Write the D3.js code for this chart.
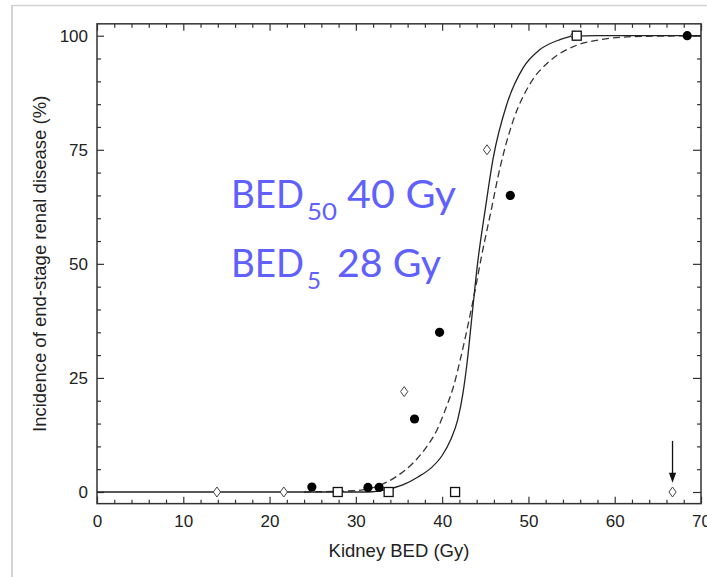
<!DOCTYPE html>
<html>
<head>
<meta charset="utf-8">
<script src="https://cdn.jsdelivr.net/npm/d3@7"></script>
<style>
  html, body { margin: 0; padding: 0; background: #fff; }
  svg { display: block; }
</style>
</head>
<body>
<svg id="chart" width="707" height="577"></svg>
<script>
// ---------------- DATA ----------------
const xTickValues = [0, 10, 20, 30, 40, 50, 60, 70];
const yTickValues = [0, 25, 50, 75, 100];

// filled circles
const circleBED = [24.9, 31.4, 32.7, 36.8, 39.7, 47.9, 68.4];
const circleInc = [1.1, 1.0, 1.0, 16, 35, 65, 100];

// open diamonds
const diamondBED = [13.9, 21.65, 35.6, 45.2, 55.3, 66.7];
const diamondInc = [0, 0, 22, 75, 100, 0];

// open squares
const squareBED = [27.9, 33.8, 41.5, 55.6];
const squareInc = [0, 0, 0, 100];

// solid fitted curve
const solidBED = [0, 31.5, 33.5, 35.5, 37.2, 38.8, 40.0, 41.0, 41.8, 42.4, 42.9, 43.4, 44.1, 45.0, 45.9, 47.5, 49.4, 51.3, 53.6, 55.2, 58.0, 70];
const solidInc = [0, 0, 0.5, 1.6, 3.3, 5.4, 8.0, 11.5, 15.8, 21.5, 28.5, 37.5, 50, 62, 73, 85, 93, 96.9, 99.1, 99.9, 100, 100];

// dashed fitted curve
const dashBED = [24, 30, 32.4, 34.7, 36.6, 38.2, 39.4, 40.5, 41.3, 42.1, 42.7, 43.9, 44.6, 45.6, 46.7, 48.25, 50.2, 52.5, 55.2, 58.3, 62.2, 70];
const dashInc = [0, 0.3, 1.2, 3.4, 6.3, 9.9, 13.6, 18.7, 23, 29, 34, 45, 52, 61, 71, 81.5, 89.5, 94.5, 97.6, 99.1, 99.8, 100];

// arrow marker above the last diamond
const arrowBED = 66.7;
const arrowFrom = 11.2;
const arrowTo = 2.0;

const annoMain = ["BED", "BED"];
const annoSub = ["50", "5"];
const annoRest = ["40 Gy", "28 Gy"];

const xTitle = "Kidney BED (Gy)";
const yTitle = "Incidence of end-stage renal disease (%)";

// ---------------- LAYOUT ----------------
const svg = d3.select("#chart");
const x = d3.scaleLinear().domain([0, 70]).range([97, 701]);
const y = d3.scaleLinear().domain([0, 100]).range([492, 35.7]);
const yLo = -2.55, yHi = 102.6;
const frameTop = y(yHi), frameBot = y(yLo);

// outer light border
svg.append("line").attr("x1", 12).attr("x2", 12).attr("y1", 5).attr("y2", 577)
  .attr("stroke", "#d4d4d4").attr("stroke-width", 2);
svg.append("line").attr("x1", 12).attr("x2", 707).attr("y1", 5.5).attr("y2", 5.5)
  .attr("stroke", "#d4d4d4").attr("stroke-width", 1.5);

const fontTick = "'Liberation Sans', Arial, sans-serif";
const axisColor = "#333";

function styleAxis(g) {
  g.select(".domain").remove();
  g.selectAll(".tick line").attr("stroke", axisColor).attr("stroke-width", 1.2);
  g.selectAll("text").attr("font-family", fontTick).attr("font-size", 17).attr("fill", "#222");
}

// minor ticks
const xMinor = d3.range(0, 71, 2).filter(v => v % 10 !== 0);
const yMinor = d3.range(0, 101, 5).filter(v => v % 25 !== 0);

// bottom
svg.append("g").attr("transform", `translate(0,${frameBot})`)
  .call(d3.axisBottom(x).tickValues(xMinor).tickSize(-4).tickFormat(""))
  .call(styleAxis);
svg.append("g").attr("transform", `translate(0,${frameBot})`)
  .call(d3.axisBottom(x).tickValues(xTickValues).tickSize(-7).tickPadding(11).tickFormat(d3.format("d")))
  .call(styleAxis);
// top
svg.append("g").attr("transform", `translate(0,${frameTop})`)
  .call(d3.axisTop(x).tickValues(xMinor).tickSize(-4).tickFormat(""))
  .call(styleAxis);
svg.append("g").attr("transform", `translate(0,${frameTop})`)
  .call(d3.axisTop(x).tickValues(xTickValues).tickSize(-7).tickFormat(""))
  .call(styleAxis);
// left
svg.append("g").attr("transform", `translate(${x(0)},0)`)
  .call(d3.axisLeft(y).tickValues(yMinor).tickSize(-4).tickFormat(""))
  .call(styleAxis);
svg.append("g").attr("transform", `translate(${x(0)},0)`)
  .call(d3.axisLeft(y).tickValues(yTickValues).tickSize(-7).tickPadding(9).tickFormat(d3.format("d")))
  .call(styleAxis);
// right
svg.append("g").attr("transform", `translate(${x(70)},0)`)
  .call(d3.axisRight(y).tickValues(yMinor).tickSize(-4).tickFormat(""))
  .call(styleAxis);
svg.append("g").attr("transform", `translate(${x(70)},0)`)
  .call(d3.axisRight(y).tickValues(yTickValues).tickSize(-8).tickFormat(""))
  .call(styleAxis);

// frame
svg.append("rect")
  .attr("x", x(0)).attr("y", frameTop)
  .attr("width", x(70) - x(0)).attr("height", frameBot - frameTop)
  .attr("fill", "none").attr("stroke", axisColor).attr("stroke-width", 1.5);

// axis titles
svg.append("text").attr("x", (x(0) + x(70)) / 2).attr("y", 557)
  .attr("text-anchor", "middle").attr("font-family", fontTick).attr("font-size", 18.5)
  .attr("fill", "#222").text(xTitle);
svg.append("text").attr("transform", `translate(45.5,${y(50)}) rotate(-90)`)
  .attr("text-anchor", "middle").attr("font-family", fontTick).attr("font-size", 18.5)
  .attr("fill", "#222").text(yTitle);

// curves
const line = d3.line().x(d => x(d[0])).y(d => y(d[1])).curve(d3.curveMonotoneX);
svg.append("path").datum(dashBED.map((v, i) => [v, dashInc[i]]))
  .attr("d", line).attr("fill", "none").attr("stroke", "#333")
  .attr("stroke-width", 1.3).attr("stroke-dasharray", "7,4");
svg.append("path").datum(solidBED.map((v, i) => [v, solidInc[i]]))
  .attr("d", line).attr("fill", "none").attr("stroke", "#222")
  .attr("stroke-width", 1.3);

// markers
svg.append("g").selectAll("path").data(diamondBED.map((v, i) => [v, diamondInc[i]]))
  .join("path")
  .attr("d", d => `M${x(d[0])},${y(d[1]) - 5} L${x(d[0]) + 3.6},${y(d[1])} L${x(d[0])},${y(d[1]) + 5} L${x(d[0]) - 3.6},${y(d[1])} Z`)
  .attr("fill", "#fff").attr("stroke", "#444").attr("stroke-width", 1);
svg.append("g").selectAll("rect").data(squareBED.map((v, i) => [v, squareInc[i]]))
  .join("rect")
  .attr("x", d => x(d[0]) - 4.5).attr("y", d => y(d[1]) - 4.5)
  .attr("width", 9).attr("height", 9)
  .attr("fill", "#fff").attr("stroke", "#111").attr("stroke-width", 1.3);
svg.append("g").selectAll("circle").data(circleBED.map((v, i) => [v, circleInc[i]]))
  .join("circle")
  .attr("cx", d => x(d[0])).attr("cy", d => y(d[1])).attr("r", 4.6)
  .attr("fill", "#000");

// arrow
svg.append("line").attr("x1", x(arrowBED)).attr("x2", x(arrowBED))
  .attr("y1", y(arrowFrom)).attr("y2", y(arrowTo) - 8)
  .attr("stroke", "#111").attr("stroke-width", 1.3);
svg.append("path")
  .attr("d", `M${x(arrowBED) - 3.6},${y(arrowTo) - 10} L${x(arrowBED) + 3.6},${y(arrowTo) - 10} L${x(arrowBED)},${y(arrowTo)} Z`)
  .attr("fill", "#111");

// annotation
const annoFont = "Lato, 'Open Sans', sans-serif";
const annoColor = "#6060ff";
const annoBase = [208, 277];
const annoLayout = [
  { mainX: 231, mainW: 73, subX: 307, subW: 30, restX: 347, restW: 109 },
  { mainX: 231, mainW: 73, subX: 307, subW: 14, restX: 337, restW: 104 }
];
annoMain.forEach((m, i) => {
  const L = annoLayout[i];
  const g = svg.append("g").attr("fill", annoColor).attr("font-family", annoFont);
  g.append("text").attr("x", L.mainX).attr("y", annoBase[i]).attr("font-size", 38)
    .attr("textLength", L.mainW).attr("lengthAdjust", "spacingAndGlyphs").text(m);
  g.append("text").attr("x", L.subX).attr("y", annoBase[i] + 12).attr("font-size", 24)
    .attr("textLength", L.subW).attr("lengthAdjust", "spacingAndGlyphs").text(annoSub[i]);
  g.append("text").attr("x", L.restX).attr("y", annoBase[i]).attr("font-size", 38)
    .attr("textLength", L.restW).attr("lengthAdjust", "spacingAndGlyphs").text(annoRest[i]);
});
</script>
</body>
</html>
